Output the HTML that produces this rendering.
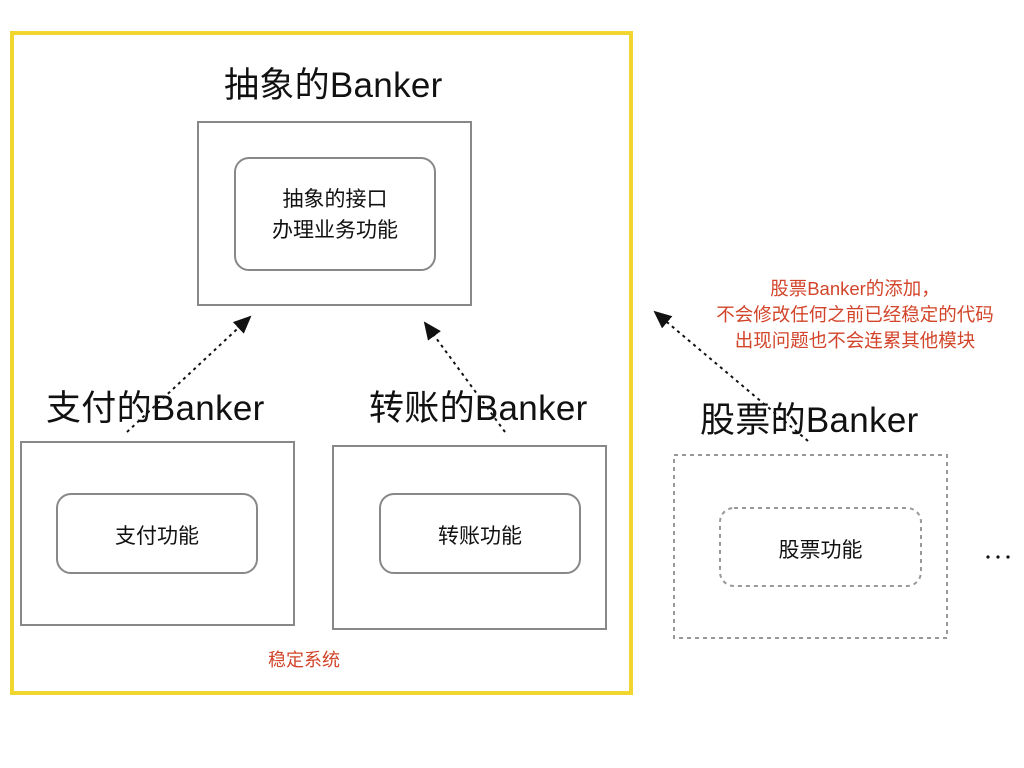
<!DOCTYPE html>
<html><head><meta charset="utf-8"><style>
body{margin:0;width:1024px;height:768px;background:#fff;position:relative;overflow:hidden;font-family:"Liberation Sans","Noto Sans CJK SC",sans-serif;color:#111}
.a{position:absolute;white-space:nowrap}
</style></head><body>
<svg class="a" style="left:0;top:0" width="1024" height="768">
<rect x="12" y="33" width="619" height="660" fill="none" stroke="#f2d630" stroke-width="4"/>
<rect x="198" y="122" width="273" height="183" fill="none" stroke="#888" stroke-width="2"/>
<rect x="235" y="158" width="200" height="112" rx="14" fill="none" stroke="#888" stroke-width="2"/>
<rect x="21" y="442" width="273" height="183" fill="none" stroke="#888" stroke-width="2"/>
<rect x="57" y="494" width="200" height="79" rx="14" fill="none" stroke="#888" stroke-width="2"/>
<rect x="333" y="446" width="273" height="183" fill="none" stroke="#888" stroke-width="2"/>
<rect x="380" y="494" width="200" height="79" rx="14" fill="none" stroke="#888" stroke-width="2"/>
<rect x="674" y="455" width="273" height="183" fill="none" stroke="#999" stroke-width="2" stroke-dasharray="4 4"/>
<rect x="720" y="508" width="201" height="78" rx="14" fill="none" stroke="#999" stroke-width="2" stroke-dasharray="4 4"/>
<defs><marker id="m" markerWidth="10" markerHeight="10" refX="8" refY="5" orient="auto"><path d="M0,1 L9,5 L0,9 z" fill="#111"/></marker></defs>
<g stroke="#111" stroke-width="2" stroke-dasharray="3 4" fill="none" marker-end="url(#m)">
<line x1="127" y1="432" x2="250" y2="317"/>
<line x1="505" y1="432" x2="425" y2="323"/>
<line x1="808" y1="441" x2="655" y2="312"/>
</g>
<circle cx="988" cy="557" r="1.6" fill="#111"/><circle cx="998" cy="557" r="1.6" fill="#111"/><circle cx="1008" cy="557" r="1.6" fill="#111"/>
</svg>
<div class="a" style="left:224px;top:57px;font-size:35px;letter-spacing:0.3px">抽象的Banker</div>
<div class="a" style="left:235px;top:184px;width:200px;text-align:center;font-size:21px;line-height:31px">抽象的接口<br>办理业务功能</div>
<div class="a" style="left:46px;top:380px;font-size:35px;letter-spacing:0.3px">支付的Banker</div>
<div class="a" style="left:369px;top:380px;font-size:35px;letter-spacing:0.3px">转账的Banker</div>
<div class="a" style="left:700px;top:392px;font-size:35px;letter-spacing:0.3px">股票的Banker</div>
<div class="a" style="left:57px;top:520px;width:200px;text-align:center;font-size:21px">支付功能</div>
<div class="a" style="left:380px;top:520px;width:200px;text-align:center;font-size:21px">转账功能</div>
<div class="a" style="left:720px;top:534px;width:201px;text-align:center;font-size:21px">股票功能</div>
<div class="a" style="left:690px;top:276px;width:330px;text-align:center;font-size:18.5px;line-height:26px;color:#d2452a">股票Banker的添加，<br>不会修改任何之前已经稳定的代码<br>出现问题也不会连累其他模块</div>
<div class="a" style="left:268px;top:646px;font-size:18px;color:#d2452a">稳定系统</div>
</body></html>
